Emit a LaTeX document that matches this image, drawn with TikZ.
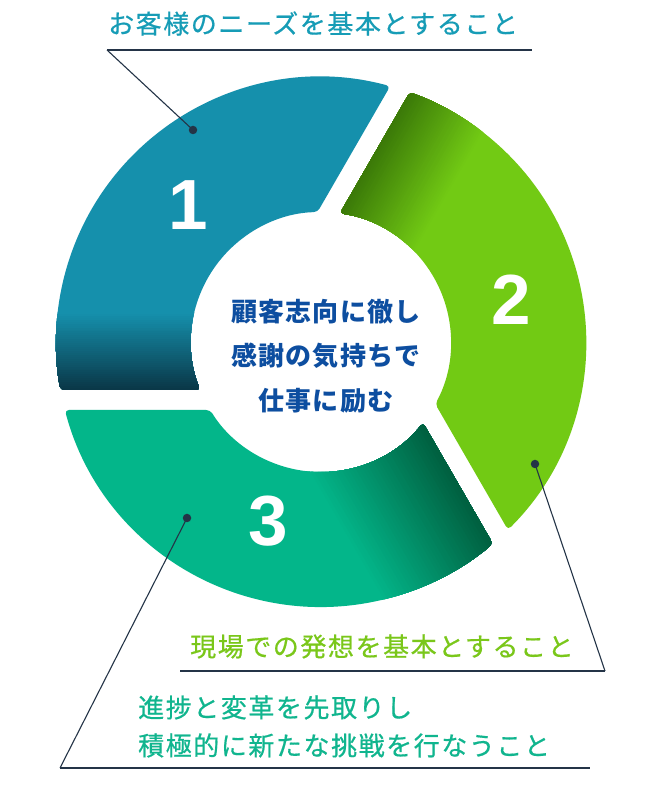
\documentclass[tikz,border=0pt]{standalone}
\usepackage{fontspec}
\newfontfamily\jpl{Noto Sans CJK JP}[LetterSpace=6,FakeBold=0.6]
\newfontfamily\jpc{Noto Sans CJK JP}[LetterSpace=5]
\newfontfamily\numf{Liberation Sans}
\definecolor{segA}{HTML}{1590AC}
\definecolor{segAd}{HTML}{0A3545}
\definecolor{segB}{HTML}{72CA14}
\definecolor{segBd}{HTML}{3A7808}
\definecolor{segC}{HTML}{03B68A}
\definecolor{segCd}{HTML}{005E3E}
\definecolor{titlec}{HTML}{169CB6}
\definecolor{labelB}{HTML}{7AC71A}
\definecolor{labelC}{HTML}{10B58E}
\definecolor{centerc}{HTML}{0D4EA0}
\definecolor{leadc}{HTML}{243447}
\begin{document}
\begin{tikzpicture}[x=1pt,y=1pt,
  lbl/.style={inner sep=0pt, anchor=west, font=\jpl\fontsize{26}{38}\selectfont},
  num/.style={inner sep=0pt, text=white, font=\numf\bfseries\fontsize{71}{71}\selectfont},
  dotn/.style={circle, fill=leadc, inner sep=0pt, minimum size=8.5pt},
  leader/.style={draw=leadc, line width=1.1pt},
  rule/.style={draw=leadc, line width=1.4pt}]
\useasboundingbox (0,0) rectangle (660,790);
\fill[white] (0,0) rectangle (660,790);
\def\Ro{265}\def\Ri{130}\def\da{48}\def\db{68}
\pgfmathsetmacro\aA{150-acos(\db/\Ro)}
\pgfmathsetmacro\aB{270-acos(\da/\Ro)}
\pgfmathsetmacro\aC{270-acos(\da/\Ri)}
\pgfmathsetmacro\aD{150-acos(\db/\Ri)}
% three ring segments (pinwheel, 120 degree symmetry)
\foreach \rot/\base/\dark/\len in {0/segA/segAd/78, -120/segB/segBd/85, 120/segC/segCd/125}{
  \begin{scope}[shift={(321,448)}, rotate=\rot]
    \path[clip, rounded corners=4pt] (\aA:\Ro) arc[start angle=\aA, end angle=\aB, radius=\Ro]
      -- (\aC:\Ri) arc[start angle=\aC, end angle=\aD, radius=\Ri] -- cycle;
    \fill[\base] (-300,-300) rectangle (300,300);
    \foreach \i in {0,...,40}{
      \pgfmathsetmacro\yy{-48+\len-\len*\i/40}
      \pgfmathtruncatemacro\pp{100*\i/40}
      \fill[\dark!\pp!\base] (-300,-120) rectangle (300,\yy);
    }
  \end{scope}
}
% numbers
\node[num] (n1) at (188,585) {1};
\node[num] (n2) at (511,490) {2};
\node[num] (n3) at (268,269) {3};
% centre text
\node[inner sep=0pt, align=center, text=centerc, font=\jpc\bfseries\fontsize{26}{44.5}\selectfont] (ctr) at (326,434)
  {顧客志向に徹し\\感謝の気持ちで\\仕事に励む};
% labels
\node[lbl, text=titlec] (t1) at (108,766.5) {お客様のニーズを基本とすること};
\node[lbl, text=labelB] (t2) at (190,143.5) {現場での発想を基本とすること};
\node[lbl, text=labelC, align=left] (t3) at (138,63.5) {進捗と変革を先取りし\\積極的に新たな挑戦を行なうこと};
% dots
\node[dotn] (d1) at (193,660) {};
\node[dotn] (d2) at (535,326) {};
\node[dotn] (d3) at (187,272) {};
% rules and leaders
\coordinate (u1a) at (107,740); \coordinate (u1b) at (532,740);
\coordinate (u2a) at (180,119); \coordinate (u2b) at (605,119);
\coordinate (u3a) at (60,22);   \coordinate (u3b) at (590,22);
\draw[rule] (u1a) -- (u1b);
\draw[rule] (u2a) -- (u2b);
\draw[rule] (u3a) -- (u3b);
\draw[leader] (u1a) -- (d1.center);
\draw[leader] (u2b) -- (d2.center);
\draw[leader] (u3a) -- (d3.center);
\end{tikzpicture}
\end{document}
